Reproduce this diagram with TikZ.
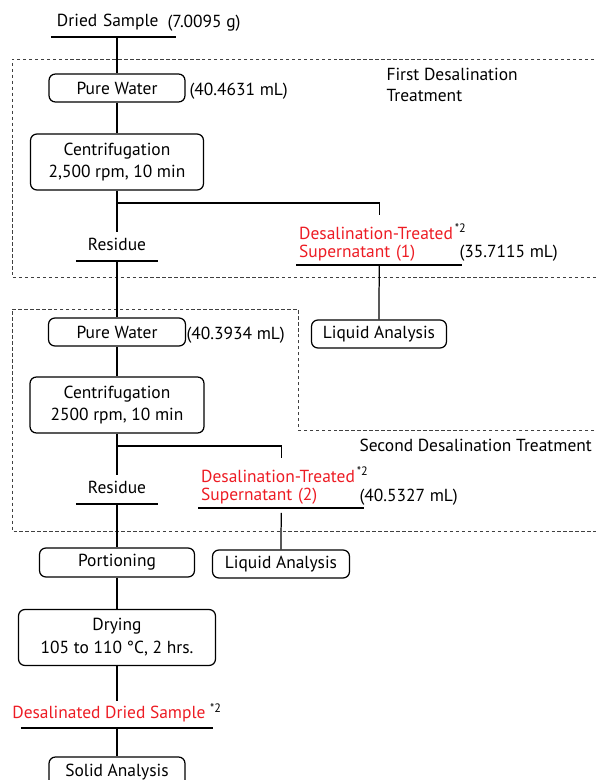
\documentclass[tikz,border=0pt]{standalone}
\usepackage{fontspec}
\setmainfont{PT Sans}
\usetikzlibrary{positioning}
\definecolor{redtext}{RGB}{237,28,36}

\begin{document}
\begin{tikzpicture}[x=1bp,y=-1bp]
\useasboundingbox (0,0) rectangle (596,780);
\tikzstyle{every node}=[font=\fontsize{17.5}{19}\selectfont]
\tikzstyle{process}=[
        draw,
        rounded corners=6.5pt,
        line width=1.25pt,
        align=center,
        inner sep=0pt,
        font=\fontsize{17.5}{23}\selectfont
]
\tikzstyle{underlined}=[inner xsep=0pt,inner ysep=6pt,text height=13pt,text depth=4pt,
append after command={(\tikzlastnode.south west) edge[line width=1.25pt] (\tikzlastnode.south east)}]
\tikzstyle{redlabel}=[text=redtext,text width=160bp,align=left,inner xsep=3bp,inner ysep=3pt,
append after command={(\tikzlastnode.south west) edge[line width=1.25pt] (\tikzlastnode.south east)}]
\tikzstyle{link}=[line width=1.25pt]
\tikzstyle{zone}=[draw=black!75,line width=0.9pt,dash pattern=on 3.5pt off 2.5pt]
%zones
\draw[zone] (600,59) -- (12,59) -- (12,277) -- (600,277);
\draw[zone] (600,430) -| (298,309) -| (12,531) -- (600,531);
\node[anchor=base west,align=left] (zone1) at (383,101) {First Desalination\\[2pt]Treatment};
\node[anchor=base west] (zone2) at (356,451) {Second Desalination Treatment};
%placement of nodes
\node[underlined,text width=113bp,inner xsep=6bp,align=left,anchor=south] (dried) at (113.5,37) {Dried Sample};
\node[anchor=base west] (mass) at (164,28) {(7.0095 g)};
\node[process,minimum width=136bp,minimum height=28bp] (water1) at (117,88) {Pure Water};
\node[anchor=base west] (vol1) at (186,95) {(40.4631 mL)};
\node[process,minimum width=173bp,minimum height=56bp] (centri1) at (117,162) {Centrifugation\\2,500 rpm, 10 min};
\coordinate (fork1) at (117,203);
\node[underlined,minimum width=82bp,anchor=south] (resid1) at (117,261) {Residue};
\node[redlabel,anchor=south west] (super1) at (296,265) {Desalination-Treated\rlap{\color{black}\textsuperscript{\,*2}}\\Supernatant (1)};
\node[anchor=base west] (vol2) at (456,257) {(35.7115 mL)};
\node[process,minimum width=135bp,minimum height=28bp] (liquid1) at (379,334) {Liquid Analysis};
\node[process,minimum width=137bp,minimum height=28bp] (water2) at (117,332) {Pure Water};
\node[anchor=base west] (vol3) at (183,339) {(40.3934 mL)};
\node[process,minimum width=174bp,minimum height=56bp] (centri2) at (117,405) {Centrifugation\\2500 rpm, 10 min};
\coordinate (fork2) at (117,446);
\node[underlined,minimum width=82bp,anchor=south] (resid2) at (117,504) {Residue};
\node[redlabel,anchor=south west] (super2) at (198,508) {Desalination-Treated\rlap{\color{black}\textsuperscript{\,*2}}\\Supernatant (2)};
\node[anchor=base west] (vol4) at (356,501) {(40.5327 mL)};
\node[process,minimum width=137bp,minimum height=28bp] (liquid2) at (281,564) {Liquid Analysis};
\node[process,minimum width=155bp,minimum height=29bp] (portion) at (117,562.5) {Portioning};
\node[process,minimum width=197bp,minimum height=56bp] (drying) at (117,637.5) {Drying\\105 to 110 \textdegree C, 2 hrs.};
\node[underlined,inner ysep=5pt,anchor=south,text=redtext] (desal) at (117,728) {\makebox[192bp]{Desalinated Dried Sample \color{black}\textsuperscript{*2}}};
\node[process,minimum width=136bp,minimum height=30bp] (solid) at (117,772) {Solid Analysis};
%placement of lines
\draw[link] (water1.north |- dried.south) -- (water1.north);
\draw[link] (water1) -- (centri1);
\draw[link] (centri1) -- (resid1);
\draw[link] (fork1) -| ([yshift=6pt]super1.north);
\draw[link] (super1.south) -- (liquid1.north);
\draw[link] (resid1.south) -- (water2.north);
\draw[link] (water2) -- (centri2);
\draw[link] (centri2) -- (resid2);
\draw[link] (fork2) -| ([yshift=6pt]super2.north);
\draw[link] ([yshift=-5pt]super2.south) -- (liquid2.north);
\draw[link] (resid2.south) -- (portion.north);
\draw[link] (portion) -- (drying);
\draw[link] (drying) -- (desal);
\draw[link] (desal.south) -- (solid.north);
\end{tikzpicture}
\end{document}
